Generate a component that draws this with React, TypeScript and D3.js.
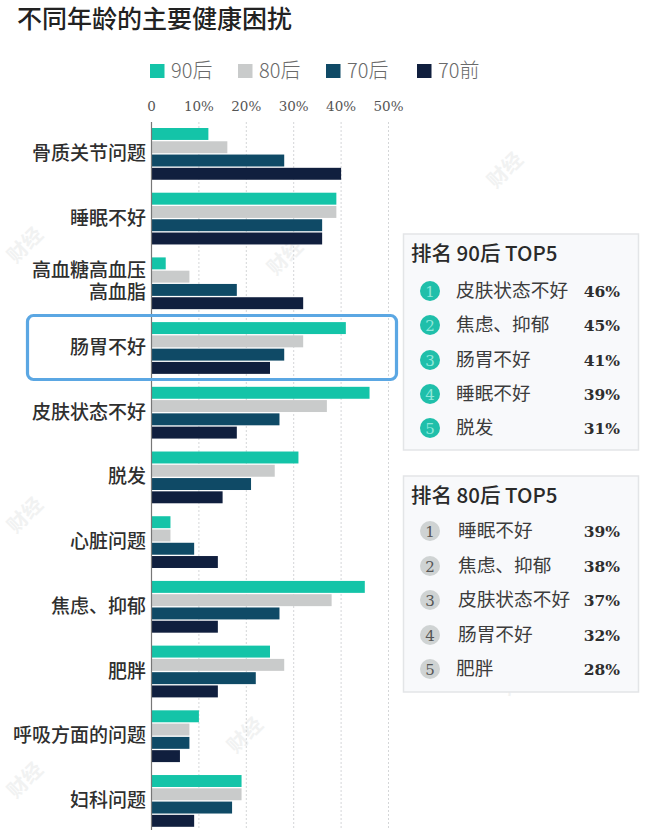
import React from "react";
import * as d3 from "d3";

const width = 650;
const height = 839;
const margin = { top: 128, left: 151.5 };

const categories = [
  "骨质关节问题",
  "睡眠不好",
  "高血糖高血压高血脂",
  "肠胃不好",
  "皮肤状态不好",
  "脱发",
  "心脏问题",
  "焦虑、抑郁",
  "肥胖",
  "呼吸方面的问题",
  "妇科问题",
];
const seriesNames = ["90后", "80后", "70后", "70前"];
const seriesColors = ["#14c4a8", "#c9cbcb", "#0f4a66", "#101f3e"];
const after90 = [12, 39, 3, 41, 46, 31, 4, 45, 25, 10, 19];
const after80 = [16, 39, 8, 32, 37, 26, 4, 38, 28, 8, 19];
const after70 = [28, 36, 18, 28, 27, 21, 9, 27, 22, 8, 17];
const before70 = [40, 36, 32, 25, 18, 15, 14, 14, 14, 6, 9];
const seriesValues = [after90, after80, after70, before70];
const xTicks = [0, 10, 20, 30, 40, 50];

const top90Names = ["皮肤状态不好", "焦虑、抑郁", "肠胃不好", "睡眠不好", "脱发"];
const top90Values = [46, 45, 41, 39, 31];
const top80Names = ["睡眠不好", "焦虑、抑郁", "皮肤状态不好", "肠胃不好", "肥胖"];
const top80Values = [39, 38, 37, 32, 28];

const watermarks = [
  [510, 175],
  [30, 250],
  [290, 262],
  [522, 428],
  [30, 520],
  [522, 682],
  [250, 740],
  [30, 785],
];

const sans = "'Noto Sans CJK SC', sans-serif";
const serif = "'DejaVu Serif', serif";

// x scale: percent to px
const xScale = d3.scaleLinear().domain([0, 50]).range([margin.left, 388.5]);
// one band per category, then one sub band per series
const yScale = d3
  .scaleBand<string>()
  .domain(categories)
  .range([margin.top, 826.8])
  .paddingInner(0.2)
  .paddingOuter(0);
const subScale = d3
  .scaleBand<string>()
  .domain(seriesNames)
  .range([0, yScale.bandwidth()])
  .paddingInner(0.1);

function CategoryLabel({ name }: { name: string }) {
  const mid = (yScale(name) as number) + yScale.bandwidth() / 2;
  const common = {
    textAnchor: "end" as const,
    fontFamily: sans,
    fontSize: 19,
    fontWeight: 500,
    fill: "#2f2f2f",
  };
  if (name === "高血糖高血压高血脂") {
    return (
      <text {...common}>
        <tspan x={146} y={mid - 6}>
          高血糖高血压
        </tspan>
        <tspan x={146} y={mid + 16}>
          高血脂
        </tspan>
      </text>
    );
  }
  return (
    <text {...common} x={146} y={mid + 6}>
      {name}
    </text>
  );
}

function Ranking(props: {
  top: number;
  label: string;
  names: string[];
  values: number[];
  circle: string;
  numberColor: string;
  rowY: number[];
  textX: number;
}) {
  const { top, label, names, values, circle, numberColor, rowY, textX } = props;
  return (
    <g>
      <rect x={403.5} y={top} width={235} height={216} fill="#f8f9fb" stroke="#e3e5e7" strokeWidth={1.5} />
      <text x={411} y={top + 27} fontFamily={sans} fontSize={20.5} fontWeight={500} fill="#2a2a2a">
        {label}
      </text>
      {names.map((n, i) => (
        <g key={n}>
          <circle cx={430} cy={rowY[i]} r={10} fill={circle} />
          <text x={430} y={rowY[i] + 5.5} textAnchor="middle" fontFamily={serif} fontSize={15} fill={numberColor}>
            {i + 1}
          </text>
          <text
            x={n === "肥胖" ? 456 : textX}
            y={rowY[i] + 6}
            fontFamily={sans}
            fontSize={18.7}
            fill="#3c3c3c"
          >
            {n}
          </text>
          <text x={620} y={rowY[i] + 6} textAnchor="end" fontFamily={serif} fontSize={15.5} fontWeight={700} fill="#2e2e2e">
            {values[i]}%
          </text>
        </g>
      ))}
    </g>
  );
}

export default function App() {
  return (
    <svg
      width={width}
      height={height}
      style={{ position: "absolute", left: 0, top: 0, background: "#fff" }}
    >
      {watermarks.map(([x, y], i) => (
        <text
          key={i}
          transform={`translate(${x},${y}) rotate(-45)`}
          textAnchor="middle"
          fontFamily={sans}
          fontSize={20}
          fontWeight={700}
          fill="#f1f2f2"
        >
          财经
        </text>
      ))}

      <text x={17} y={28} fontFamily={sans} fontSize={25} fontWeight={500} fill="#222">
        不同年龄的主要健康困扰
      </text>

      {/* legend */}
      {seriesNames.map((s, i) => {
        const lx = [150, 238, 326, 417][i];
        return (
          <g key={s}>
            <rect x={lx} y={64} width={14.5} height={14} fill={seriesColors[i]} />
            <text x={lx + 21} y={78} fontFamily={sans} fontSize={20} fontWeight={300} fill="#6a6a6a">
              {s}
            </text>
          </g>
        );
      })}

      {/* grid and ticks */}
      {xTicks.map((t) => (
        <g key={t}>
          {t > 0 && (
            <line
              x1={xScale(t)}
              x2={xScale(t)}
              y1={122}
              y2={830}
              stroke="#d4d6d8"
              strokeWidth={1}
              strokeDasharray="2 2"
            />
          )}
          <text
            x={xScale(t)}
            y={111}
            textAnchor="middle"
            fontFamily={serif}
            fontSize={13.5}
            fill="#555"
          >
            {t === 0 ? "0" : `${t}%`}
          </text>
        </g>
      ))}

      {/* bars */}
      {categories.map((c, ci) => (
        <g key={c} transform={`translate(0,${yScale(c)})`}>
          {seriesNames.map((s, si) => (
            <rect
              key={s}
              x={xScale(0)}
              y={subScale(s)}
              width={xScale(seriesValues[si][ci]) - xScale(0)}
              height={subScale.bandwidth()}
              fill={seriesColors[si]}
            />
          ))}
        </g>
      ))}
      <line x1={xScale(0)} x2={xScale(0)} y1={122} y2={830} stroke="#777" strokeWidth={1.2} />

      {categories.map((c) => (
        <CategoryLabel key={c} name={c} />
      ))}

      {/* highlight box */}
      <rect x={27.5} y={315.5} width={369} height={64} rx={6} fill="none" stroke="#5ba7e3" strokeWidth={3.2} />

      <Ranking
        top={234}
        label="排名 90后 TOP5"
        names={top90Names}
        values={top90Values}
        circle="#1fbfaa"
        numberColor="#8fe8da"
        rowY={[291, 325, 360, 394, 428]}
        textX={456}
      />
      <Ranking
        top={476}
        label="排名 80后 TOP5"
        names={top80Names}
        values={top80Values}
        circle="#cfd3d3"
        numberColor="#555"
        rowY={[531, 566, 600, 635, 669]}
        textX={458}
      />
    </svg>
  );
}
